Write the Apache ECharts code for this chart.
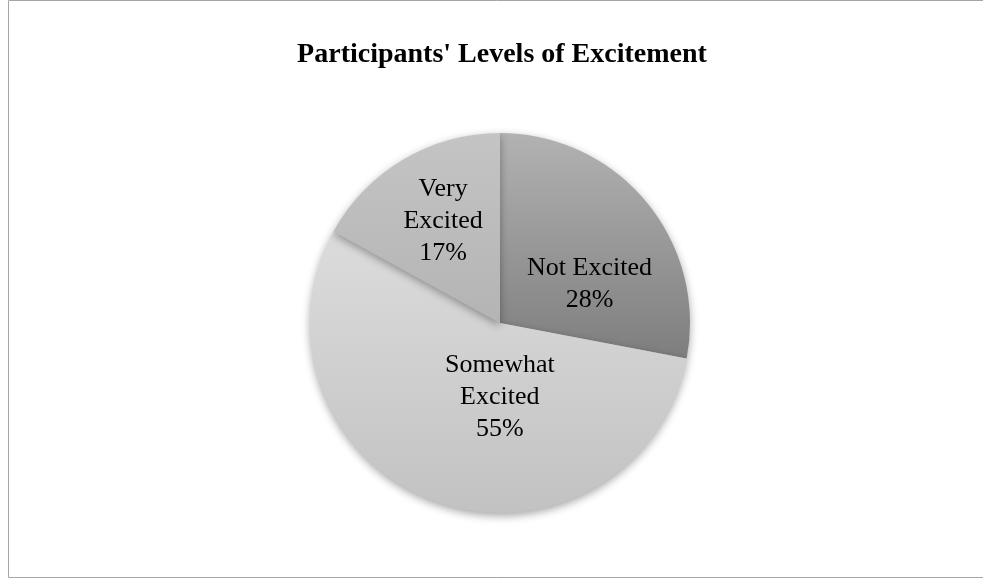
<!DOCTYPE html>
<html><head><meta charset="utf-8">
<script src="https://cdn.jsdelivr.net/npm/echarts@6/dist/echarts.min.js"></script>
<style>html,body{margin:0;padding:0;background:#fff;}#c{width:983px;height:580px;}</style>
</head><body><div id="c"></div>
<script>
const titleText = "Participants' Levels of Excitement";
const categories = ["Not Excited", "Somewhat Excited", "Very Excited"];
const labelNames = ["Not Excited", "Somewhat\nExcited", "Very\nExcited"];
const values = [28, 55, 17];

// styling
const gradTop = ["#b2b2b2", "#dcdcdc", "#c4c4c4"];
const gradBottom = ["#7e7e7e", "#c2c2c2", "#b4b4b4"];
const labelShift = [[14, 24], [33, -18], [-7, -17]];

const chart = echarts.init(document.getElementById('c'));
chart.setOption({
  animation: false,
  title: {
    text: titleText, left: 497, textAlign: 'center', top: 36,
    textStyle: { fontFamily: 'Liberation Serif', fontWeight: 'bold', fontSize: 28, color: '#000' }
  },
  graphic: [{
    type: 'rect', shape: { x: 8.5, y: 0.5, width: 1000, height: 577 },
    style: { fill: 'none', stroke: '#a6a6a6', lineWidth: 1 }, silent: true
  }],
  series: [{
    type: 'pie',
    center: [500, 323], radius: [0, 190],
    startAngle: 90, clockwise: true,
    data: categories.map((c, i) => ({
      name: c, value: values[i],
      itemStyle: { color: new echarts.graphic.LinearGradient(0, 0, 0, 1, [
        { offset: 0, color: gradTop[i] }, { offset: 1, color: gradBottom[i] }]) },
      label: { formatter: labelNames[i] + '\n{d}%' }
    })),
    itemStyle: { borderWidth: 0, shadowBlur: 8, shadowOffsetY: 3, shadowColor: 'rgba(0,0,0,0.35)' },
    label: { show: true, position: 'inside', fontFamily: 'Liberation Serif', fontSize: 26, lineHeight: 32, color: '#000', align: 'center' },
    labelLayout: function (p) {
      const s = labelShift[p.dataIndex];
      return { dx: s[0], dy: s[1] };
    },
    labelLine: { show: false },
    emphasis: { disabled: true }
  }]
});
</script></body></html>
